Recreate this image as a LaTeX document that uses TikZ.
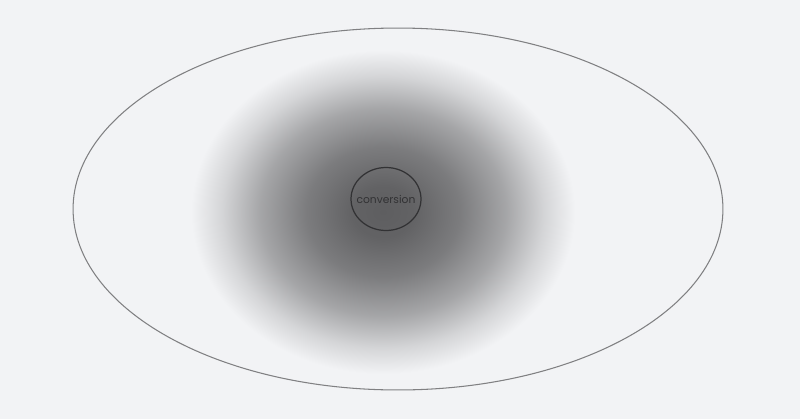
\documentclass[tikz,border=0pt]{standalone}
\usepackage{fontspec}
\setsansfont{Poppins}
\usepackage{tikz}
\usetikzlibrary{positioning,shapes.geometric,backgrounds}
\definecolor{paper}{RGB}{242,243,245}
\definecolor{rimgray}{RGB}{128,128,130}
\definecolor{inkgray}{RGB}{50,50,52}
\definecolor{coregray}{RGB}{94,94,96}
\pgfdeclareradialshading{halo}{\pgfpoint{0cm}{0cm}}{%
  color(0bp)=(coregray); color(4bp)=(coregray!97!paper);
  color(10bp)=(coregray!80!paper); color(16bp)=(coregray!52!paper);
  color(21bp)=(coregray!20!paper); color(25bp)=(paper); color(50bp)=(paper)}
\begin{document}
\begin{tikzpicture}[x=0.02cm,y=-0.02cm,font=\sffamily,
  field/.style={draw=rimgray,line width=0.6pt,ellipse,inner sep=0pt,minimum width=13cm,minimum height=7.24cm},
  glow/.style={ellipse,inner sep=0pt,shading=halo,minimum width=7.68cm,minimum height=6.48cm},
  core/.style={draw=inkgray,line width=0.7pt,ellipse,inner sep=0pt,minimum width=1.4cm,minimum height=1.26cm},
  tag/.style={text=inkgray,font=\sffamily\fontsize{6.1}{7}\selectfont}]
\fill[paper] (0,0) rectangle (800,419);
\useasboundingbox (0,0) rectangle (800,419);
\node[field] (area) at (398,209) {};
\node[glow] (haze) at (383,212) {};
\node[core,label={[tag]center:conversion}] (conv) at (386,199) {};
\end{tikzpicture}
\end{document}
